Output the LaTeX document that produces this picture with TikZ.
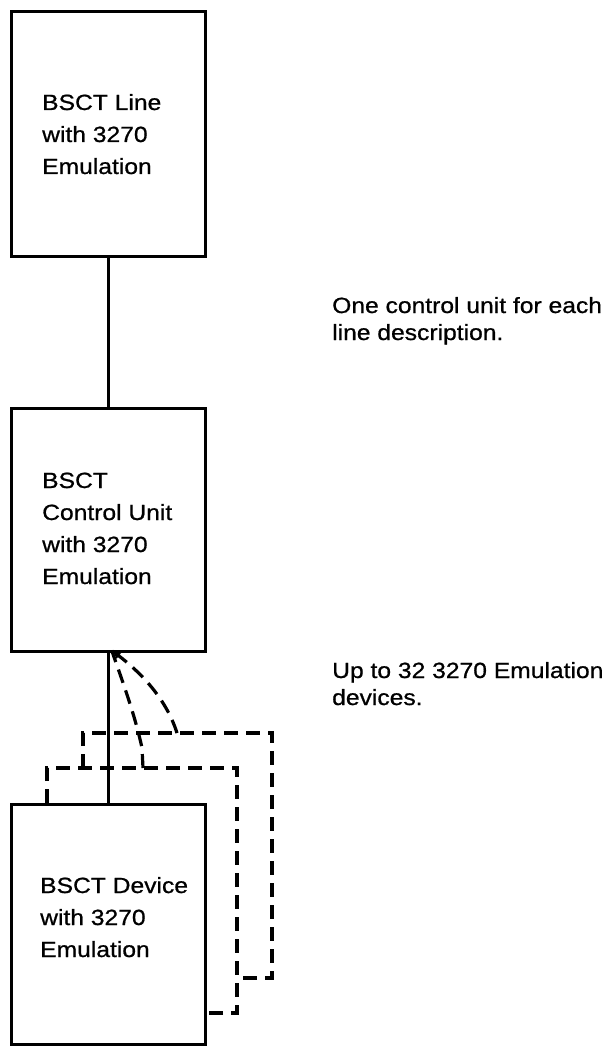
\documentclass[tikz,border=0pt]{standalone}
\usepackage{fontspec}
\setmainfont[FakeStretch=1.12,FakeBold=0.8]{Liberation Sans}
\usetikzlibrary{arrows.meta}
\begin{document}
\begin{tikzpicture}[x=1pt,y=-1pt,
  box/.style={draw, line width=3.4pt, minimum width=194pt, minimum height=245pt, inner sep=0pt, anchor=north west},
  lbl/.style={anchor=base west, align=left, inner sep=0pt, font=\fontsize{22}{32}\selectfont},
  note/.style={anchor=base west, align=left, inner sep=0pt, font=\fontsize{22}{27}\selectfont},
  link/.style={line width=3.2pt},
  dashln/.style={line width=3.2pt, dash pattern=on 14pt off 8pt}]
\path[use as bounding box] (0,0) rectangle (613,1048);
% boxes
\node[box] (line) at (10,10) {};
\node[box, minimum height=243pt] (cu) at (10,407) {};
\node[box, minimum height=240pt] (dev) at (10,803) {};
% connectors
\draw[link] (line.south) -- (cu.north);
\draw[link] (cu.south) -- (dev.north);
% labels (anchor = baseline of last line)
\node[lbl] (t1) at (42,174) {BSCT Line\\with 3270\\Emulation};
\node[lbl] (t2) at (42,584) {BSCT\\Control Unit\\with 3270\\Emulation};
\node[lbl] (t3) at (40,957) {BSCT Device\\with 3270\\Emulation};
\node[note] (n1) at (332,340) {One control unit for each\\line description.};
\node[note] (n2) at (332,705) {Up to 32 3270 Emulation\\devices.};
% stacked device outlines
\coordinate (c2s) at (47,803);
\coordinate (c2e) at (204,1013);
\coordinate (c3s) at (83,768);
\coordinate (c3e) at (237,978);
\draw[dashln] (c2s) -- (47,768) -- (237,768) -- (237,1013) -- (c2e);
\draw[dashln] (c3s) -- (83,733) -- (272,733) -- (272,978) -- (c3e);
% dashed links to control unit
\coordinate (tip) at ([xshift=3pt,yshift=3pt]cu.south);
\coordinate (a3) at (177,733);
\coordinate (a2) at (143,768);
\draw[dashln, -{Latex[length=9pt,width=8pt]}] (a3) .. controls (166,698) and (140,672) .. (tip);
\draw[dashln] (a2) -- (142,748) .. controls (135,715) and (122,680) .. (tip);
\end{tikzpicture}
\end{document}
